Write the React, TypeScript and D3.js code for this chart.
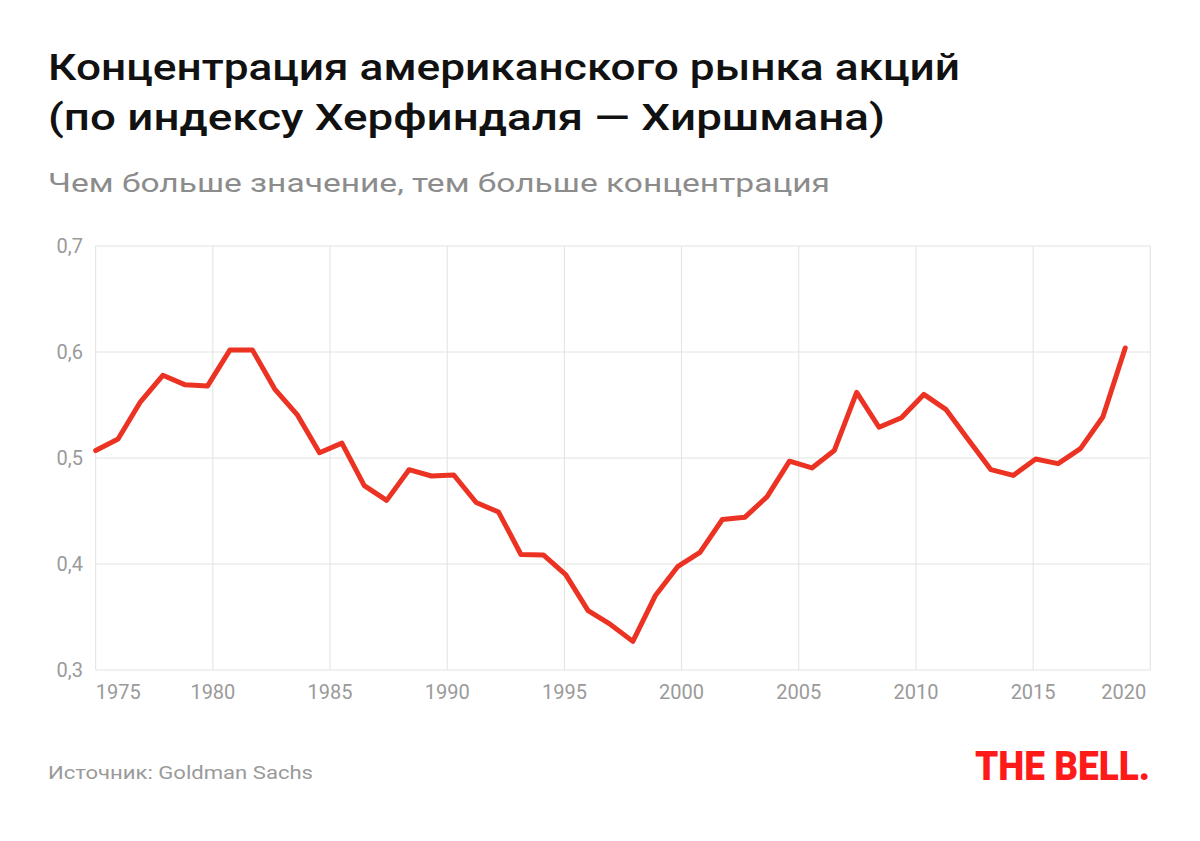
import React from "react";
import * as d3 from "d3";

const titleLines = [
  "Концентрация американского рынка акций",
  "(по индексу Херфиндаля — Хиршмана)",
];
const subtitle = "Чем больше значение, тем больше концентрация";
const source = "Источник: Goldman Sachs";
const logo = "THE BELL.";

const hhiValues = [
  0.507, 0.518, 0.553, 0.578, 0.569, 0.568, 0.602, 0.602, 0.565, 0.541,
  0.505, 0.514, 0.474, 0.46, 0.489, 0.483, 0.484, 0.458, 0.449, 0.409,
  0.4085, 0.39, 0.356, 0.343, 0.327, 0.37, 0.3975, 0.411, 0.442, 0.444,
  0.4635, 0.497, 0.4906, 0.507, 0.562, 0.529, 0.538, 0.56, 0.5456, 0.517,
  0.489, 0.4836, 0.499, 0.4947, 0.5088, 0.5387, 0.6038,
];
// first and last observation dates (fractional years)
const firstDate = 1975;
const lastDate = 2018.93;

const xTicks = [1975, 1980, 1985, 1990, 1995, 2000, 2005, 2010, 2015, 2020];
const yTicks = [0.3, 0.4, 0.5, 0.6, 0.7];

const W = 1200;
const H = 841;
const plot = { left: 95.7, right: 1150.3, top: 246, bottom: 670 };

const locale = d3.formatLocale({
  decimal: ",",
  thousands: " ",
  grouping: [3],
  currency: ["", ""],
});
const fmt = locale.format(".1f");

export default function App() {
  const x = d3.scaleLinear().domain([1975, 2020]).range([plot.left, plot.right]);
  const y = d3.scaleLinear().domain([0.3, 0.7]).range([plot.bottom, plot.top]);
  const idx = d3
    .scaleLinear()
    .domain([0, hhiValues.length - 1])
    .range([firstDate, lastDate]);

  const line = d3
    .line<number>()
    .x((_, i) => x(idx(i)))
    .y((d) => y(d));

  const grid = "#e2e2e2";
  const gray = "#9a9a9a";
  const font = "Roboto, 'Noto Sans', sans-serif";

  return (
    <div style={{ position: "absolute", left: 0, top: 0 }}>
      <svg width={W} height={H} style={{ display: "block", background: "#fff" }}>
        <rect width={W} height={H} fill="#fff" />
        {titleLines.map((t, i) => (
          <text
            key={i}
            x={48}
            y={80 + i * 50}
            fontFamily={font}
            fontWeight={500}
            fontSize={37}
            fill="#111"
            textLength={i === 0 ? 912 : 837}
            lengthAdjust="spacingAndGlyphs"
          >
            {t}
          </text>
        ))}
        <text
          x={48}
          y={192}
          fontFamily={font}
          fontSize={25}
          fill="#8c8c8c"
          textLength={782}
          lengthAdjust="spacingAndGlyphs"
        >
          {subtitle}
        </text>

        {/* horizontal grid */}
        {yTicks.map((t) => (
          <line
            key={"h" + t}
            x1={plot.left}
            x2={plot.right}
            y1={y(t)}
            y2={y(t)}
            stroke={grid}
            strokeWidth={1}
          />
        ))}
        {/* vertical grid */}
        {xTicks.map((t) => (
          <line
            key={"v" + t}
            x1={x(t)}
            x2={x(t)}
            y1={plot.top}
            y2={plot.bottom}
            stroke={grid}
            strokeWidth={1}
          />
        ))}

        {yTicks.map((t) => (
          <text
            key={"yl" + t}
            x={83}
            y={y(t)}
            dy="0.35em"
            textAnchor="end"
            fontFamily={font}
            fontSize={20}
            fill={gray}
          >
            {fmt(t)}
          </text>
        ))}
        {xTicks.map((t, i) => (
          <text
            key={"xl" + t}
            x={i === 0 ? plot.left : i === xTicks.length - 1 ? plot.right - 4 : x(t)}
            y={699}
            textAnchor={i === 0 ? "start" : i === xTicks.length - 1 ? "end" : "middle"}
            fontFamily={font}
            fontSize={20}
            fill={gray}
          >
            {t}
          </text>
        ))}

        <path
          d={line(hhiValues) || ""}
          fill="none"
          stroke="#ec3323"
          strokeWidth={5}
          strokeLinejoin="round"
          strokeLinecap="round"
        />

        <text x={48} y={779} fontFamily={font} fontSize={18} fill={gray} textLength={265} lengthAdjust="spacingAndGlyphs">
          {source}
        </text>
        <text
          x={975}
          y={780}
          fontFamily={font}
          fontWeight={900}
          fontSize={40}
          fill="#ff1a1a"
          textLength={175}
          lengthAdjust="spacingAndGlyphs"
        >
          {logo}
        </text>
      </svg>
    </div>
  );
}
